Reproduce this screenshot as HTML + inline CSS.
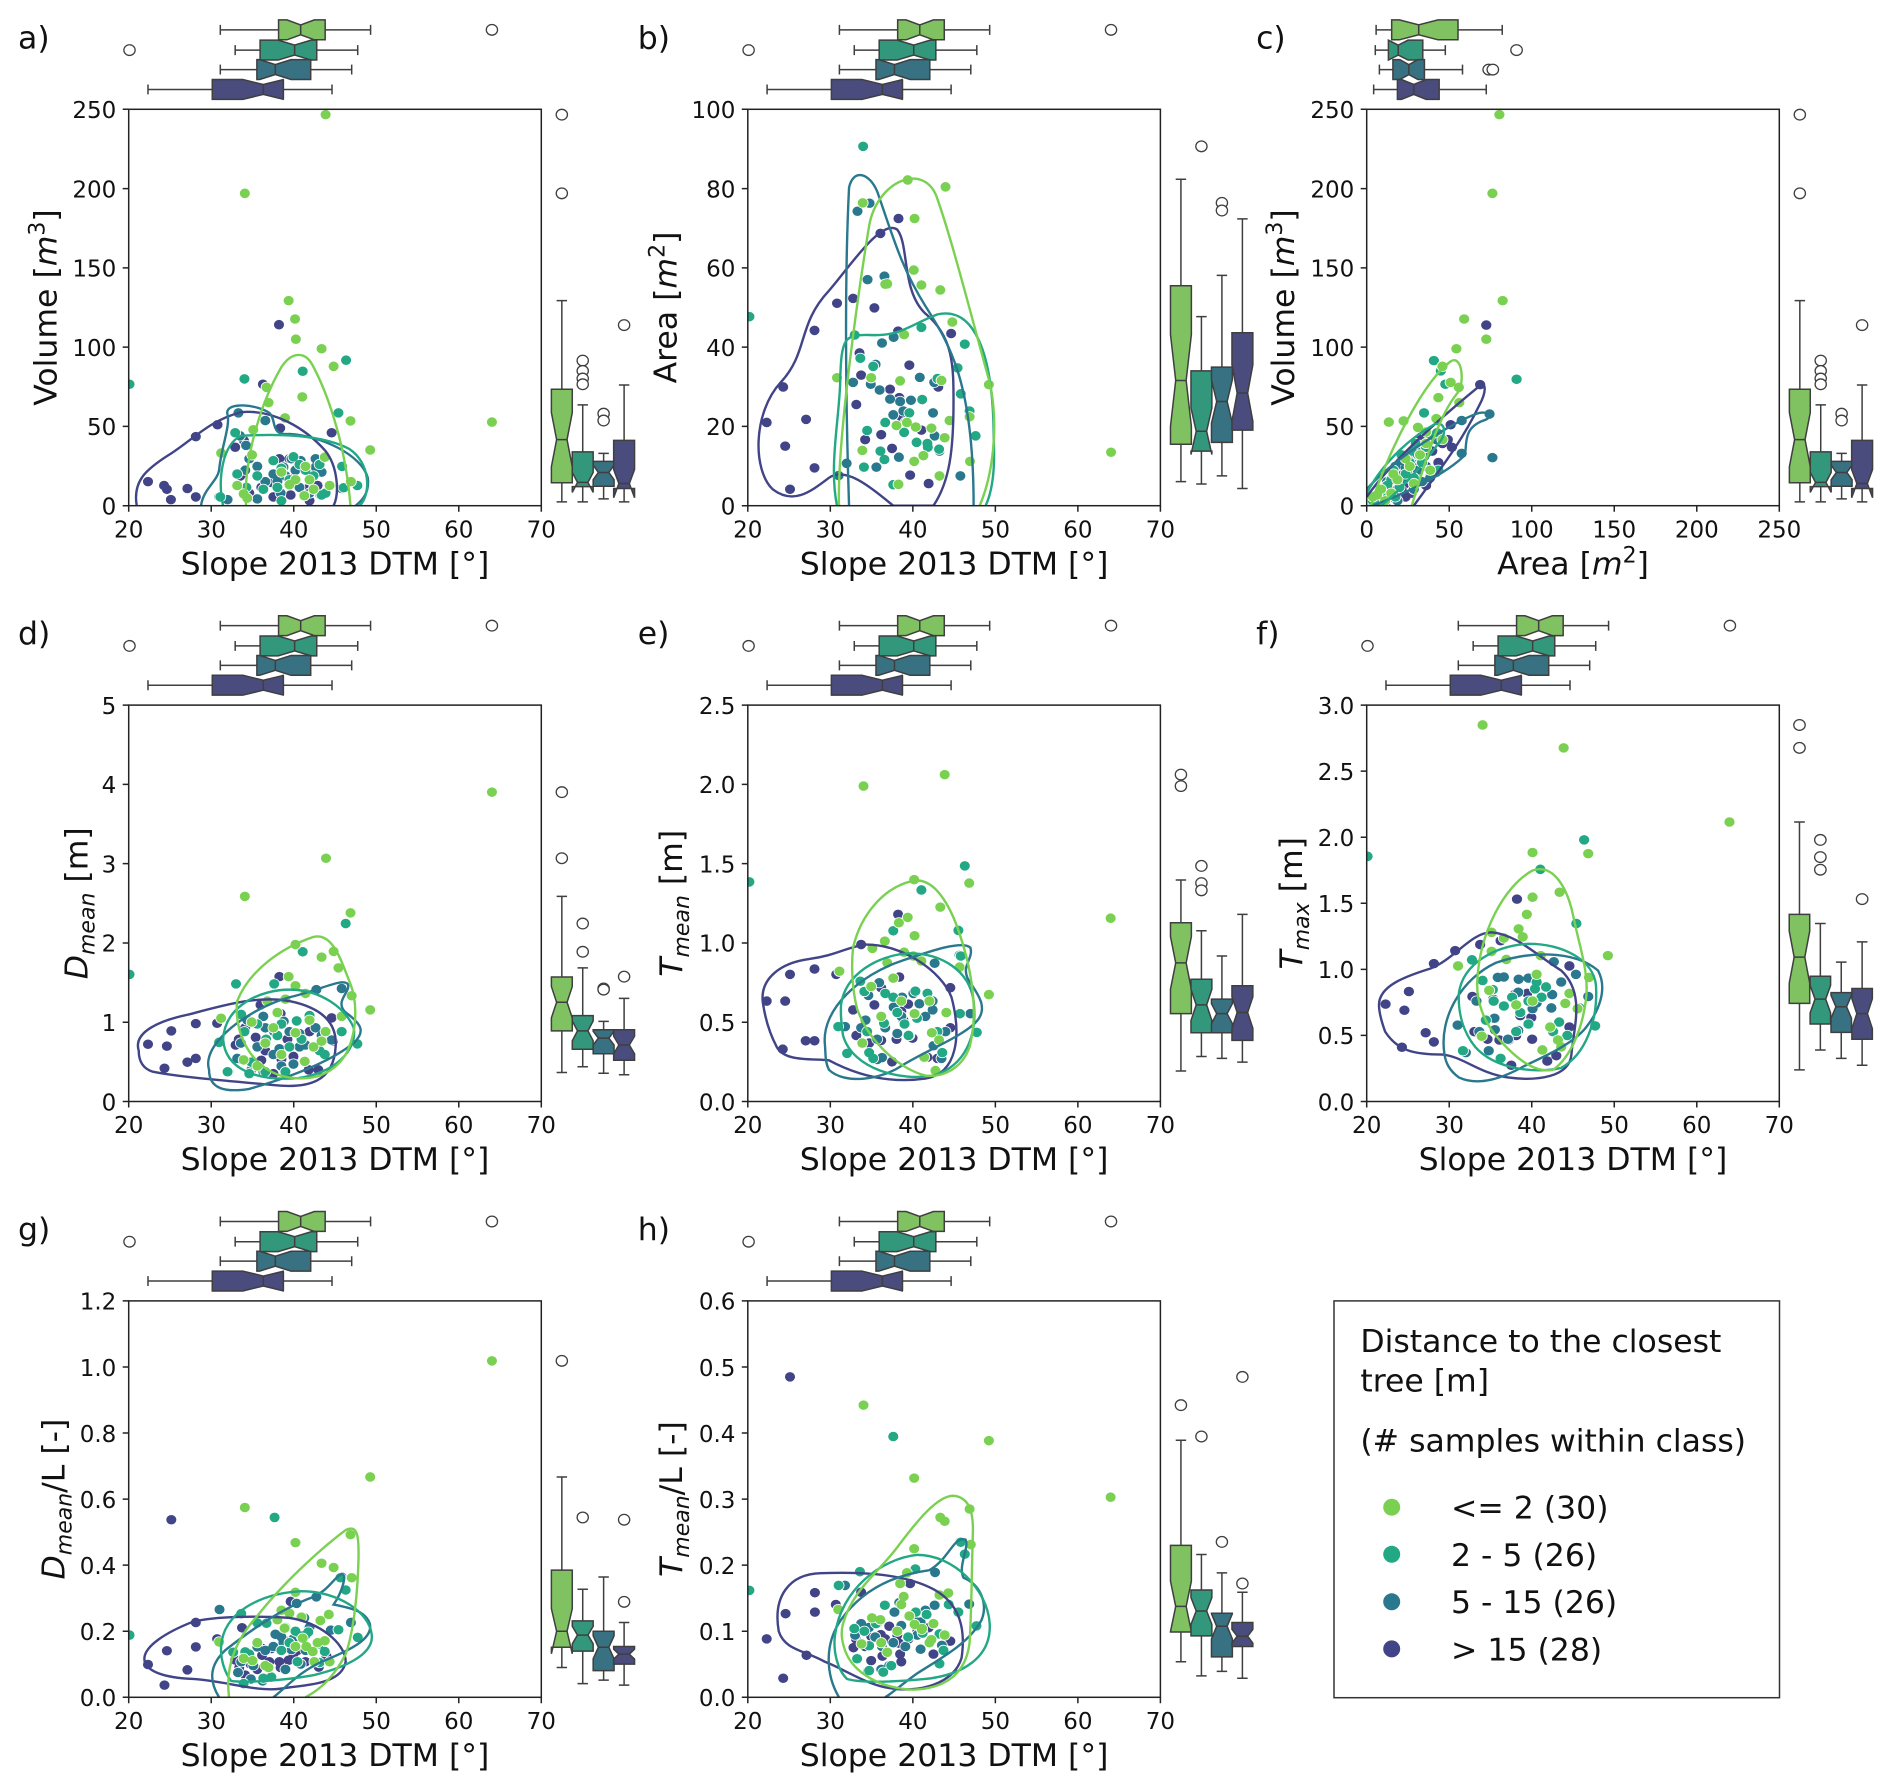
<!DOCTYPE html>
<html><head><meta charset="utf-8"><style>
html,body{margin:0;padding:0;background:#fff}
svg{display:block}
text{font-family:"DejaVu Sans","Liberation Sans",sans-serif;fill:#111}
.tl{font-size:23px}
.al{font-size:31.5px}
.fr{fill:none;stroke:#222;stroke-width:1.5}
.tk{fill:none;stroke:#222;stroke-width:1.5}
.f0{fill:#80c161}.f1{fill:#33977c}.f2{fill:#377182}.f3{fill:#4a4c7e}
.bx{stroke:#3f3f3f;stroke-width:1.5;vector-effect:non-scaling-stroke}
.ln{fill:none;stroke:#3f3f3f;stroke-width:1.5;vector-effect:non-scaling-stroke}
.ol{fill:#fff;stroke:#3f3f3f;stroke-width:1.3;vector-effect:non-scaling-stroke}
.dw{fill:none;stroke:#fff;stroke-width:29;stroke-linecap:round}
.d0{fill:none;stroke:#7ad151;stroke-width:25;stroke-linecap:round}
.d1{fill:none;stroke:#22a884;stroke-width:25;stroke-linecap:round}
.d2{fill:none;stroke:#2a788e;stroke-width:25;stroke-linecap:round}
.d3{fill:none;stroke:#414487;stroke-width:25;stroke-linecap:round}
.c0{fill:none;stroke:#7ad151;stroke-width:2.4;vector-effect:non-scaling-stroke}
.c1{fill:none;stroke:#22a884;stroke-width:2.4;vector-effect:non-scaling-stroke}
.c2{fill:none;stroke:#2a788e;stroke-width:2.4;vector-effect:non-scaling-stroke}
.c3{fill:none;stroke:#414487;stroke-width:2.4;vector-effect:non-scaling-stroke}
</style></head><body>
<svg width="1892" height="1792" viewBox="0 0 1892 1792" xmlns="http://www.w3.org/2000/svg">
<rect width="1892" height="1792" fill="#fff"/>
<defs>
<clipPath id="ax"><rect x="0" y="0" width="412.6" height="396.4"/></clipPath>
<g id="tops">
<path class="ln" d="M548 77H693M809 77H922M548 64V90M922 64V90M585 130H647M788 130H890M585 117V143M890 117V143M548 181H639M773 181H875M548 168V194M875 168V194M368 233H528M705 233H826M368 220V246M826 220V246"/>
<polygon class="bx f0" points="693,51 714,51 748,64 782,51 809,51 809,103 782,103 748,90 714,103 693,103"/>
<polygon class="bx f1" points="647,104 692,104 733,117 774,104 788,104 788,156 774,156 733,143 692,156 647,156"/>
<polygon class="bx f2" points="639,155 646,155 685,168 724,155 773,155 773,207 724,207 685,194 646,207 639,207"/>
<polygon class="bx f3" points="528,207 604,207 655,220 706,207 705,207 705,259 706,259 655,246 604,259 528,259"/>
<path class="ln" d="M748 64V90M733 117V143M685 168V194M655 220V246"/>
<circle class="ol" cx="322" cy="130" r="14"/><circle class="ol" cx="1224" cy="77" r="14"/>
</g>
<g id="ra">
<path class="ln" d="M1398 786V1018M1398 1263V1313M1385 786H1411M1385 1313H1411M1450 1059V1182M1450 1273V1313M1437 1059H1463M1437 1313H1463M1502 1186V1207M1502 1272V1305M1489 1186H1515M1489 1305H1515M1553 1007V1152M1553 1278V1313M1540 1007H1566M1540 1313H1566"/>
<polygon class="bx f0" points="1372,1263 1372,1221 1385,1150 1372,1079 1372,1018 1424,1018 1424,1079 1411,1150 1424,1221 1424,1263"/>
<polygon class="bx f1" points="1424,1273 1424,1288 1437,1262 1424,1236 1424,1182 1476,1182 1476,1236 1463,1262 1476,1288 1476,1273"/>
<polygon class="bx f2" points="1476,1272 1476,1255 1489,1236 1476,1217 1476,1207 1528,1207 1528,1217 1515,1236 1528,1255 1528,1272"/>
<polygon class="bx f3" points="1527,1278 1527,1302 1540,1265 1527,1228 1527,1152 1579,1152 1579,1228 1566,1265 1579,1302 1579,1278"/>
<path class="ln" d="M1385 1150H1411M1437 1262H1463M1489 1236H1515M1540 1265H1566"/>
<circle class="ol" cx="1398" cy="299" r="14"/><circle class="ol" cx="1398" cy="505" r="14"/>
<circle class="ol" cx="1450" cy="943" r="14"/><circle class="ol" cx="1450" cy="970" r="14"/><circle class="ol" cx="1450" cy="990" r="14"/><circle class="ol" cx="1450" cy="1005" r="14"/>
<circle class="ol" cx="1502" cy="1082" r="14"/><circle class="ol" cx="1502" cy="1100" r="14"/>
<circle class="ol" cx="1553" cy="850" r="14"/>
</g>
<path id="a0" d="M810 299h.1M609 505h.1M718 786h.1M734 834h.1M736 887h.1M800 912h.1M830 958h.1M752 1038h.1M668 1053h.1M663 1013h.1M709 1093h.1M872 1101h.1M921 1177h.1M1224 1104h.1M630 1124h.1M627 1190h.1M606 1292h.1M757 1297h.1M820 1270h.1M735 1255h.1M770 1255h.1M808 1196h.1M550 1185h.1M873 1260h.1M720 1268h.1M700 1235h.1M590 1270h.1M780 1280h.1M615 1303h.1M760 1220h.1"/>
<path id="a1" d="M322 1005h.1M608 991h.1M753 971h.1M861 942h.1M842 1080h.1M585 1132h.1M851 1220h.1M889 1270h.1M700 1310h.1M548 1300h.1M613 1275h.1M800 1295h.1M720 1255h.1M690 1275h.1M745 1215h.1M760 1230h.1M780 1245h.1M655 1280h.1M855 1276h.1M700 1225h.1M730 1195h.1M590 1240h.1M640 1245h.1M680 1205h.1M795 1215h.1M810 1290h.1"/>
<path id="a2" d="M660 1100h.1M593 1080h.1M612 1165h.1M640 1220h.1M660 1260h.1M680 1240h.1M705 1222h.1M725 1200h.1M748 1205h.1M785 1200h.1M785 1222h.1M800 1235h.1M850 1278h.1M797 1295h.1M698 1290h.1M640 1305h.1M545 1300h.1M566 1307h.1M597 1140h.1M620 1200h.1M745 1275h.1M770 1290h.1M690 1260h.1M710 1245h.1M735 1230h.1M610 1230h.1"/>
<path id="a3" d="M368 1260h.1M408 1270h.1M415 1280h.1M425 1307h.1M466 1278h.1M487 1300h.1M487 1142h.1M541 1111h.1M593 1082h.1M654 1005h.1M697 1120h.1M825 1132h.1M694 849h.1M607 1153h.1M585 1170h.1M598 1245h.1M650 1275h.1M675 1262h.1M695 1200h.1M720 1200h.1M723 1295h.1M770 1310h.1M790 1270h.1M680 1300h.1M638 1220h.1M730 1250h.1M760 1280h.1M620 1290h.1"/>
<path id="b0" d="M716 470h.1M810 488h.1M604 530h.1M733 571h.1M731 706h.1M750 745h.1M797 758h.1M827 842h.1M660 743h.1M665 742h.1M707 875h.1M540 988h.1M625 988h.1M697 996h.1M800 995h.1M918 1006h.1M1222 1183h.1M688 1113h.1M714 1105h.1M736 1117h.1M775 1120h.1M808 1145h.1M603 1178h.1M732 1207h.1M755 1192h.1M795 1245h.1M871 1207h.1M693 1267h.1M870 1090h.1M820 1100h.1"/>
<path id="b1" d="M322 828h.1M605 382h.1M750 856h.1M584 876h.1M598 937h.1M630 958h.1M858 900h.1M848 1030h.1M885 1140h.1M615 1126h.1M707 1131h.1M738 1157h.1M766 1170h.1M794 1175h.1M648 1180h.1M680 1268h.1M607 1222h.1M658 1202h.1M710 1105h.1M752 1045h.1M840 962h.1M870 1075h.1M790 990h.1M765 1160h.1M660 1105h.1M720 1080h.1"/>
<path id="b2" d="M591 552h.1M621 531h.1M658 722h.1M616 731h.1M652 897h.1M681 882h.1M636 953h.1M624 1005h.1M646 1020h.1M672 1044h.1M697 1050h.1M724 1047h.1M746 987h.1M782 1000h.1M779 1080h.1M783 1140h.1M847 1245h.1M871 1075h.1M564 1212h.1M544 1244h.1M694 1196h.1M638 1222h.1M680 1085h.1M705 1075h.1M795 1180h.1M580 1000h.1"/>
<path id="b3" d="M648 610h.1M693 571h.1M540 793h.1M633 805h.1M580 780h.1M484 864h.1M824 872h.1M406 1012h.1M365 1105h.1M463 1097h.1M411 1167h.1M484 1224h.1M423 1280h.1M596 923h.1M600 981h.1M588 1058h.1M720 955h.1M672 1018h.1M695 1040h.1M792 1012h.1M650 1137h.1M677 1173h.1M722 1243h.1M768 1265h.1M700 1090h.1M610 1150h.1M692 866h.1M750 1125h.1"/>
<path id="k0" d="M609 299h.1M592 505h.1M617 786h.1M523 834h.1M577 887h.1M504 912h.1M470 958h.1M510 1013h.1M511 1053h.1M339 1104h.1M375 1101h.1M410 1118h.1M430 1130h.1M455 1095h.1M415 1190h.1M360 1255h.1M320 1280h.1M300 1300h.1M350 1240h.1M380 1200h.1M430 1160h.1M470 1150h.1M400 1265h.1M440 1230h.1M330 1310h.1M310 1295h.1M460 1040h.1M490 1000h.1M390 1220h.1M345 1290h.1"/>
<path id="k1" d="M449 943h.1M466 970h.1M477 1005h.1M651 992h.1M425 1080h.1M457 1132h.1M345 1255h.1M365 1275h.1M330 1295h.1M300 1310h.1M350 1230h.1M390 1210h.1M410 1190h.1M430 1170h.1M320 1280h.1M400 1250h.1M440 1140h.1M370 1190h.1M380 1240h.1M310 1320h.1M420 1210h.1M355 1300h.1M335 1270h.1M460 1230h.1M395 1180h.1M405 1160h.1"/>
<path id="k2" d="M585 1083h.1M517 1100h.1M517 1186h.1M592 1197h.1M456 1235h.1M380 1225h.1M355 1220h.1M395 1200h.1M410 1230h.1M330 1280h.1M310 1300h.1M345 1300h.1M425 1195h.1M365 1260h.1M300 1310h.1M350 1245h.1M385 1250h.1M405 1170h.1M440 1250h.1M455 1150h.1M320 1290h.1M335 1260h.1M370 1205h.1M400 1280h.1M420 1260h.1M360 1310h.1"/>
<path id="k3" d="M577 850h.1M562 1006h.1M490 1111h.1M483 1150h.1M493 1170h.1M418 1143h.1M440 1245h.1M390 1265h.1M370 1280h.1M345 1300h.1M330 1320h.1M310 1310h.1M400 1230h.1M420 1200h.1M445 1180h.1M460 1210h.1M375 1240h.1M355 1255h.1M325 1290h.1M395 1290h.1M410 1255h.1M430 1270h.1M350 1285h.1M300 1315h.1M380 1300h.1M470 1160h.1M395 1210h.1M430 1220h.1"/>
<path id="e0x" d="M1224 513h.1M811 686h.1M609 786h.1M872 829h.1M735 912h.1M800 945h.1M830 930h.1M842 973h.1M718 996h.1M735 1020h.1M875 1046h.1M921 1083h.1M710 1055h.1M760 1040h.1M665 1060h.1M550 1105h.1M626 1115h.1M735 1143h.1M780 1180h.1M606 1214h.1M758 1218h.1M810 1140h.1M800 1165h.1M690 1090h.1M660 1170h.1M700 1200h.1M640 1230h.1M770 1110h.1M680 1130h.1M850 1100h.1"/>
<path id="e1x" d="M322 990h.1M860 857h.1M753 931h.1M843 974h.1M850 1140h.1M889 1172h.1M682 1015h.1M545 1168h.1M566 1245h.1M608 1140h.1M625 1220h.1M662 1160h.1M700 1120h.1M738 1112h.1M770 1098h.1M795 1190h.1M808 1200h.1M720 1180h.1M640 1120h.1M660 1245h.1M600 1095h.1M587 1015h.1M750 1160h.1M690 1150h.1M710 1245h.1M620 1250h.1"/>
<path id="e2x" d="M850 1027h.1M787 1030h.1M825 1162h.1M808 1200h.1M706 1113h.1M682 1140h.1M660 1130h.1M637 1120h.1M640 1180h.1M680 1200h.1M695 1185h.1M720 1140h.1M745 1145h.1M785 1130h.1M568 1245h.1M625 1240h.1M655 1245h.1M615 1110h.1M599 1170h.1M745 1180h.1M700 1230h.1M655 1100h.1M730 1225h.1M760 1175h.1M590 1210h.1M800 1150h.1"/>
<path id="e3x" d="M368 1173h.1M415 1178h.1M426 1138h.1M487 1119h.1M466 1220h.1M487 1210h.1M409 1236h.1M695 996h.1M648 1070h.1M698 1093h.1M825 1104h.1M828 1165h.1M586 1175h.1M594 1160h.1M636 1155h.1M680 1250h.1M700 1212h.1M730 1205h.1M768 1240h.1M792 1240h.1M650 1215h.1M600 1213h.1M715 1160h.1M628 1225h.1M540 1118h.1M770 1140h.1M660 1190h.1M610 1130h.1"/>
<path id="m0" d="M808 467h.1M606 497h.1M732 742h.1M869 751h.1M797 814h.1M716 841h.1M694 855h.1M733 889h.1M659 903h.1M628 922h.1M707 932h.1M730 942h.1M750 955h.1M665 960h.1M845 971h.1M546 982h.1M918 1043h.1M1221 843h.1M625 1022h.1M733 1093h.1M812 1090h.1M776 1143h.1M794 1162h.1M603 1170h.1M757 1207h.1M785 1242h.1M650 1100h.1M700 1060h.1M770 1060h.1M680 1000h.1"/>
<path id="m1" d="M322 748h.1M858 706h.1M750 769h.1M680 876h.1M842 875h.1M848 942h.1M598 1008h.1M608 1035h.1M660 1040h.1M735 1034h.1M765 1040h.1M739 1105h.1M718 1150h.1M846 1093h.1M888 1142h.1M543 1127h.1M657 1118h.1M708 1120h.1M615 1140h.1M802 1195h.1M620 1195h.1M565 1197h.1M690 1090h.1M790 1140h.1M630 1210h.1M680 1050h.1"/>
<path id="m2" d="M845 940h.1M783 961h.1M872 1093h.1M778 1083h.1M645 1012h.1M618 1045h.1M681 1076h.1M702 1050h.1M745 1067h.1M778 1060h.1M690 1145h.1M720 1150h.1M640 1213h.1M652 1208h.1M564 1197h.1M560 1127h.1M611 1110h.1M600 1130h.1M780 1177h.1M800 1210h.1M810 1140h.1M660 1130h.1M730 1040h.1M700 1100h.1M640 1160h.1M760 1100h.1"/>
<path id="m3" d="M600 912h.1M692 833h.1M695 997h.1M484 976h.1M423 990h.1M365 1060h.1M411 1060h.1M462 1164h.1M484 1164h.1M405 1186h.1M588 1150h.1M538 990h.1M580 1083h.1M633 1070h.1M700 1087h.1M717 1068h.1M728 1157h.1M677 1219h.1M765 1207h.1M790 1210h.1M822 1025h.1M822 1130h.1M600 1130h.1M650 1163h.1M688 1160h.1M650 1025h.1M705 1110h.1M620 1170h.1"/>
<path id="n0" d="M568 337h.1M766 397h.1M1171 591h.1M690 671h.1M826 674h.1M690 788h.1M756 775h.1M676 833h.1M656 871h.1M666 892h.1M590 880h.1M626 951h.1M508 968h.1M710 941h.1M874 941h.1M828 998h.1M584 1032h.1M650 1070h.1M690 1060h.1M770 1066h.1M800 1080h.1M566 1152h.1M733 1128h.1M752 1162h.1M714 1188h.1M760 1180h.1M620 895h.1M590 930h.1M780 1040h.1M700 990h.1"/>
<path id="n1" d="M287 681h.1M816 638h.1M709 715h.1M797 857h.1M542 952h.1M568 1006h.1M696 1028h.1M723 1023h.1M712 1050h.1M660 1090h.1M620 1073h.1M576 1110h.1M805 1078h.1M843 1125h.1M680 1120h.1M755 1115h.1M595 1060h.1M640 1050h.1M700 1010h.1M775 1150h.1M612 1210h.1M520 1190h.1M650 1140h.1M740 1140h.1M593 1030h.1M680 1060h.1"/>
<path id="n2" d="M656 1003h.1M620 997h.1M605 998h.1M742 957h.1M796 990h.1M826 1048h.1M738 1043h.1M736 1078h.1M655 1037h.1M640 1050h.1M553 1060h.1M507 1123h.1M597 1105h.1M583 1190h.1M527 1195h.1M612 1213h.1M655 1137h.1M762 1180h.1M742 1140h.1M700 1065h.1M760 1010h.1M680 1000h.1M630 1160h.1M598 1135h.1M560 1140h.1M690 1080h.1"/>
<path id="n3" d="M652 793h.1M612 902h.1M562 912h.1M501 928h.1M449 962h.1M388 1035h.1M331 1068h.1M377 1084h.1M429 1143h.1M449 1167h.1M371 1181h.1M543 1048h.1M594 1055h.1M646 1043h.1M677 1040h.1M687 1103h.1M689 1160h.1M609 1162h.1M632 1162h.1M638 1228h.1M726 1217h.1M748 1203h.1M780 1128h.1M548 1140h.1M650 1150h.1M660 1098h.1M780 968h.1M580 1160h.1"/>
<path id="g0" d="M1224 442h.1M921 746h.1M609 826h.1M735 918h.1M872 897h.1M800 972h.1M830 983h.1M875 1010h.1M735 1048h.1M720 1103h.1M797 1122h.1M818 1106h.1M708 1142h.1M753 1168h.1M735 1190h.1M762 1190h.1M778 1203h.1M808 1175h.1M606 1221h.1M628 1227h.1M668 1245h.1M545 1178h.1M782 1230h.1M690 1120h.1M750 1113h.1M700 1095h.1M820 1230h.1M640 1180h.1M660 1240h.1M790 1180h.1"/>
<path id="g1" d="M322 1160h.1M683 852h.1M860 1042h.1M847 1010h.1M890 1166h.1M760 1160h.1M767 1152h.1M842 1146h.1M808 1203h.1M794 1183h.1M600 1104h.1M640 1128h.1M663 1129h.1M710 1140h.1M735 1150h.1M750 1163h.1M610 1204h.1M606 1287h.1M655 1273h.1M675 1270h.1M580 1205h.1M620 1210h.1M700 1200h.1M720 1180h.1M795 1232h.1M740 1230h.1"/>
<path id="g2" d="M546 1093h.1M787 1060h.1M850 1008h.1M738 1077h.1M823 1147h.1M873 1127h.1M685 1158h.1M705 1180h.1M725 1198h.1M640 1191h.1M592 1258h.1M624 1275h.1M653 1280h.1M748 1236h.1M806 1201h.1M700 1165h.1M660 1200h.1M730 1170h.1M757 1115h.1M680 1190h.1M770 1140h.1M600 1230h.1M630 1240h.1M710 1250h.1M620 1215h.1M760 1200h.1"/>
<path id="g3" d="M426 858h.1M368 1237h.1M409 1291h.1M415 1201h.1M466 1251h.1M487 1191h.1M487 1127h.1M723 1072h.1M602 1141h.1M585 1225h.1M595 1245h.1M623 1236h.1M652 1213h.1M652 1195h.1M675 1195h.1M698 1245h.1M718 1226h.1M722 1175h.1M740 1200h.1M793 1244h.1M812 1215h.1M540 1170h.1M695 1230h.1M670 1230h.1M610 1265h.1M760 1230h.1M730 1210h.1M640 1250h.1"/>
<path id="h0" d="M606 558h.1M918 651h.1M732 749h.1M1221 799h.1M870 830h.1M797 852h.1M808 862h.1M873 923h.1M732 934h.1M714 997h.1M697 1025h.1M706 1059h.1M795 1055h.1M817 1050h.1M543 1093h.1M627 1115h.1M648 1120h.1M733 1132h.1M752 1143h.1M775 1172h.1M808 1160h.1M601 1183h.1M665 1205h.1M751 1145h.1M690 1150h.1M720 1110h.1M770 1180h.1M650 1180h.1M700 1080h.1M780 1130h.1"/>
<path id="h1" d="M322 1043h.1M680 640h.1M597 994h.1M544 1030h.1M735 987h.1M858 948h.1M848 917h.1M887 1136h.1M842 1100h.1M818 1080h.1M659 1082h.1M736 1100h.1M763 1106h.1M795 1157h.1M805 1200h.1M795 1235h.1M583 1143h.1M608 1150h.1M620 1188h.1M637 1130h.1M717 1165h.1M753 1155h.1M590 1222h.1M620 1253h.1M655 1257h.1M675 1240h.1"/>
<path id="h2" d="M784 996h.1M846 916h.1M560 1030h.1M695 1075h.1M683 1100h.1M783 1082h.1M869 1079h.1M748 1126h.1M700 1135h.1M640 1130h.1M600 1130h.1M635 1165h.1M652 1190h.1M590 1220h.1M617 1254h.1M748 1197h.1M801 1187h.1M670 1240h.1M585 1160h.1M760 1095h.1M730 1110h.1M710 1190h.1M680 1180h.1M620 1140h.1M740 1160h.1M650 1250h.1"/>
<path id="h3" d="M423 484h.1M412 1104h.1M365 1170h.1M406 1273h.1M464 1213h.1M485 1049h.1M485 1100h.1M537 1080h.1M600 1048h.1M722 1025h.1M768 1141h.1M822 1176h.1M718 1170h.1M694 1181h.1M697 1210h.1M670 1137h.1M649 1159h.1M625 1163h.1M587 1170h.1M581 1193h.1M625 1227h.1M690 1160h.1M653 1215h.1M610 1190h.1M740 1150h.1M780 1210h.1M700 1230h.1M660 1170h.1"/>
</defs>

<!-- PANEL A -->
<g transform="translate(128.7 109.3)">
<g clip-path="url(#ax)"><g transform="scale(.40179 .3819) translate(-320 -285)">
<use href="#a3" class="dw"/><use href="#a3" class="d3"/><use href="#a2" class="dw"/><use href="#a2" class="d2"/><use href="#a1" class="dw"/><use href="#a1" class="d1"/><use href="#a0" class="dw"/><use href="#a0" class="d0"/>
<path class="c3" d="M340 1323C330 1260 360 1230 420 1190C480 1150 520 1100 600 1078C680 1070 760 1120 810 1180C840 1220 845 1290 830 1323"/>
<path class="c2" d="M500 1323C505 1280 540 1260 545 1230C550 1170 575 1110 565 1080C565 1050 640 1058 670 1080C690 1100 670 1140 720 1135C800 1140 900 1190 915 1250C920 1290 900 1310 885 1323"/>
<path class="c1" d="M555 1323C540 1250 555 1160 600 1140C680 1135 800 1135 870 1175C920 1210 925 1290 895 1323"/>
<path class="c0" d="M612 1323C605 1200 650 1050 700 960C725 920 760 915 780 960C820 1040 860 1170 872 1323"/>
</g></g>
<g transform="scale(.40179 .3819) translate(-320 -285)"><use href="#tops"/><use href="#ra"/></g>
<rect class="fr" width="412.6" height="396.4"/>
<path class="tk" d="M0 396.4v6M82.52 396.4v6M165.04 396.4v6M247.56 396.4v6M330.08 396.4v6M412.6 396.4v6M0 0h-6M0 79.28h-6M0 158.56h-6M0 237.84h-6M0 317.12h-6M0 396.4h-6"/>
<g class="tl" text-anchor="middle"><text x="0" y="428">20</text><text x="82.52" y="428">30</text><text x="165.04" y="428">40</text><text x="247.56" y="428">50</text><text x="330.08" y="428">60</text><text x="412.6" y="428">70</text></g>
<g class="tl" text-anchor="end"><text x="-12.4" y="405.2">0</text><text x="-12.4" y="325.9">50</text><text x="-12.4" y="246.6">100</text><text x="-12.4" y="167.4">150</text><text x="-12.4" y="88.1">200</text><text x="-12.4" y="8.8">250</text></g>
<text class="al" x="206.3" y="465" text-anchor="middle">Slope 2013 DTM [°]</text>
<text class="al" transform="translate(-72.3 198.2) rotate(-90)" text-anchor="middle">Volume [<tspan font-style="italic">m</tspan><tspan font-size="22" dy="-12">3</tspan><tspan dy="12">]</tspan></text>
<text class="al" x="-110.7" y="-61">a)</text>
</g>

<!-- PANEL B -->
<g transform="translate(747.8 109.3)">
<g clip-path="url(#ax)"><g transform="scale(.40179 .3819) translate(-318 -285)">
<use href="#b3" class="dw"/><use href="#b3" class="d3"/><use href="#b2" class="dw"/><use href="#b2" class="d2"/><use href="#b1" class="dw"/><use href="#b1" class="d1"/><use href="#b0" class="dw"/><use href="#b0" class="d0"/>
<path class="c3" d="M690 600C720 640 700 760 760 820C830 880 830 960 830 1050C830 1180 820 1260 780 1323L680 1323C620 1270 560 1220 520 1250C470 1290 430 1320 380 1280C330 1230 330 1080 400 1000C470 920 440 850 520 760C570 700 650 570 690 600Z"/>
<path class="c2" d="M570 1323C560 1000 560 700 570 490C580 440 620 450 640 500C680 620 700 700 760 800C820 900 880 1000 880 1323"/>
<path class="c1" d="M540 1323C520 1220 545 1100 548 1000C550 880 560 875 620 876C700 880 720 850 790 822C880 800 930 920 930 1150C935 1250 920 1300 910 1323"/>
<path class="c0" d="M545 1323C540 1150 595 750 620 590C640 470 760 420 790 520C830 640 880 850 920 1000C945 1120 925 1250 895 1323"/>
</g></g>
<g transform="scale(.40179 .3819) translate(-320 -285)"><use href="#tops"/></g>
<g transform="scale(.40179 .3819) translate(-318 -285)">
<path class="ln" d="M1396 468V747M1396 1162V1260M1383 468H1409M1383 1260H1409M1447 828V970M1447 1180V1266M1434 828H1460M1434 1266H1460M1498 720V960M1498 1157V1245M1485 720H1511M1485 1245H1511M1549 572V870M1549 1125V1278M1536 572H1562M1536 1278H1562"/>
<polygon class="bx f0" points="1370,1162 1370,1115 1383,995 1370,875 1370,747 1422,747 1422,875 1409,995 1422,1115 1422,1162"/>
<polygon class="bx f1" points="1421,1180 1421,1189 1434,1128 1421,1067 1421,970 1473,970 1473,1067 1460,1128 1473,1189 1473,1180"/>
<polygon class="bx f2" points="1472,1157 1472,1107 1485,1050 1472,993 1472,960 1524,960 1524,993 1511,1050 1524,1107 1524,1157"/>
<polygon class="bx f3" points="1523,1125 1523,1102 1536,1028 1523,954 1523,870 1575,870 1575,954 1562,1028 1575,1102 1575,1125"/>
<path class="ln" d="M1383 995H1409M1434 1128H1460M1485 1050H1511M1536 1028H1562"/>
<circle class="ol" cx="1447" cy="382" r="14"/><circle class="ol" cx="1498" cy="530" r="14"/><circle class="ol" cx="1498" cy="550" r="14"/>
</g>
<rect class="fr" width="412.6" height="396.4"/>
<path class="tk" d="M0 396.4v6M82.52 396.4v6M165.04 396.4v6M247.56 396.4v6M330.08 396.4v6M412.6 396.4v6M0 0h-6M0 79.28h-6M0 158.56h-6M0 237.84h-6M0 317.12h-6M0 396.4h-6"/>
<g class="tl" text-anchor="middle"><text x="0" y="428">20</text><text x="82.52" y="428">30</text><text x="165.04" y="428">40</text><text x="247.56" y="428">50</text><text x="330.08" y="428">60</text><text x="412.6" y="428">70</text></g>
<g class="tl" text-anchor="end"><text x="-12.4" y="405.2">0</text><text x="-12.4" y="325.9">20</text><text x="-12.4" y="246.6">40</text><text x="-12.4" y="167.4">60</text><text x="-12.4" y="88.1">80</text><text x="-12.4" y="8.8">100</text></g>
<text class="al" x="206.3" y="465" text-anchor="middle">Slope 2013 DTM [°]</text>
<text class="al" transform="translate(-71.5 198.2) rotate(-90)" text-anchor="middle">Area [<tspan font-style="italic">m</tspan><tspan font-size="22" dy="-12">2</tspan><tspan dy="12">]</tspan></text>
<text class="al" x="-110" y="-61">b)</text>
</g>

<!-- PANEL C -->
<g transform="translate(1366.7 109.3)">
<g clip-path="url(#ax)"><g transform="scale(.40944 .3819) translate(-285 -285)">
<use href="#k3" class="dw"/><use href="#k3" class="d3"/><use href="#k2" class="dw"/><use href="#k2" class="d2"/><use href="#k1" class="dw"/><use href="#k1" class="d1"/><use href="#k0" class="dw"/><use href="#k0" class="d0"/>
<path class="c3" d="M285 1300C350 1200 480 1080 560 1010C575 995 580 1020 560 1060C520 1150 470 1220 400 1323"/>
<path class="c2" d="M285 1280C350 1200 500 1100 560 1080C590 1075 590 1095 570 1100C520 1120 530 1160 525 1190C480 1240 380 1290 300 1323"/>
<path class="c1" d="M285 1290C330 1200 400 1140 450 1110C480 1100 480 1140 460 1160C420 1220 360 1290 320 1323"/>
<path class="c0" d="M295 1323C330 1200 420 1000 490 945C520 925 525 1010 505 1030C460 1090 430 1200 395 1323"/>
</g></g>
<g transform="scale(.40944 .3819) translate(-285 -285)">
<path class="ln" d="M308 77H346M508 77H616M308 64V90M616 64V90M306 130H338M422 130H477M306 117V143M477 117V143M316 181H349M426 181H519M316 168V194M519 168V194M302 233H360M462 233H577M302 220V246M577 220V246"/>
<polygon class="bx f0" points="346,51 365,51 412,64 459,51 508,51 508,103 459,103 412,90 365,103 346,103"/>
<polygon class="bx f1" points="338,104 362,117 386,104 422,104 422,156 386,156 362,143 338,156"/>
<polygon class="bx f2" points="349,155 366,155 388,168 410,155 426,155 426,207 410,207 388,194 366,207 349,207"/>
<polygon class="bx f3" points="360,207 370,207 400,220 430,207 462,207 462,259 430,259 400,246 370,259 360,259"/>
<path class="ln" d="M412 64V90M362 117V143M388 168V194M400 220V246"/>
<circle class="ol" cx="651" cy="130" r="14"/><circle class="ol" cx="583" cy="181" r="14"/><circle class="ol" cx="593" cy="181" r="14"/>
</g>
<g transform="scale(.40179 .3819) translate(-320 -285)"><use href="#ra"/></g>
<rect class="fr" width="412.6" height="396.4"/>
<path class="tk" d="M0 396.4v6M82.52 396.4v6M165.04 396.4v6M247.56 396.4v6M330.08 396.4v6M412.6 396.4v6M0 0h-6M0 79.28h-6M0 158.56h-6M0 237.84h-6M0 317.12h-6M0 396.4h-6"/>
<g class="tl" text-anchor="middle"><text x="0" y="428">0</text><text x="82.52" y="428">50</text><text x="165.04" y="428">100</text><text x="247.56" y="428">150</text><text x="330.08" y="428">200</text><text x="412.6" y="428">250</text></g>
<g class="tl" text-anchor="end"><text x="-12.4" y="405.2">0</text><text x="-12.4" y="325.9">50</text><text x="-12.4" y="246.6">100</text><text x="-12.4" y="167.4">150</text><text x="-12.4" y="88.1">200</text><text x="-12.4" y="8.8">250</text></g>
<text class="al" x="206.3" y="465" text-anchor="middle">Area [<tspan font-style="italic">m</tspan><tspan font-size="22" dy="-12">2</tspan><tspan dy="12">]</tspan></text>
<text class="al" transform="translate(-72.5 198.2) rotate(-90)" text-anchor="middle">Volume [<tspan font-style="italic">m</tspan><tspan font-size="22" dy="-12">3</tspan><tspan dy="12">]</tspan></text>
<text class="al" x="-110.6" y="-61">c)</text>
</g>

<!-- PANEL D -->
<g transform="translate(128.7 705.1)">
<g clip-path="url(#ax)"><g transform="scale(.40179 .3819) translate(-320 -285)">
<use href="#e3x" class="dw"/><use href="#e3x" class="d3"/><use href="#e2x" class="dw"/><use href="#e2x" class="d2"/><use href="#e1x" class="dw"/><use href="#e1x" class="d1"/><use href="#e0x" class="dw"/><use href="#e0x" class="d0"/>
<path class="c3" d="M345 1190C330 1140 400 1110 470 1095C560 1070 640 1045 720 1060C790 1075 840 1110 835 1180C830 1270 770 1290 680 1280C580 1270 450 1260 380 1245C350 1235 345 1210 345 1190Z"/>
<path class="c2" d="M520 1240C500 1170 620 1080 720 1050C800 1030 850 1000 865 1015C875 1035 830 1060 860 1090C900 1120 910 1140 880 1170C820 1220 720 1260 620 1290C560 1300 520 1290 520 1240Z"/>
<path class="c1" d="M555 1160C560 1070 650 1030 720 1030C800 1030 860 1080 880 1130C890 1190 830 1250 740 1262C640 1270 560 1240 555 1160Z"/>
<path class="c0" d="M590 1060C620 980 700 920 780 892C830 880 850 960 870 1010C890 1060 890 1140 860 1200C830 1250 780 1270 720 1260C640 1250 580 1160 590 1060Z"/>
</g></g>
<g transform="scale(.40179 .3819) translate(-320 -285)"><use href="#tops"/>
<path class="ln" d="M1398 786V997M1398 1138V1247M1385 786H1411M1385 1247H1411M1450 973V1098M1450 1186V1232M1437 973H1463M1437 1232H1463M1502 1113V1135M1502 1198V1249M1489 1113H1515M1489 1249H1515M1553 1053V1135M1553 1215V1253M1540 1053H1566M1540 1253H1566"/>
<polygon class="bx f0" points="1372,1138 1372,1104 1385,1063 1372,1022 1372,997 1424,997 1424,1022 1411,1063 1424,1104 1424,1138"/>
<polygon class="bx f1" points="1424,1186 1424,1164 1437,1138 1424,1112 1424,1098 1476,1098 1476,1112 1463,1138 1476,1164 1476,1186"/>
<polygon class="bx f2" points="1476,1198 1476,1175 1489,1157 1476,1139 1476,1135 1528,1135 1528,1139 1515,1157 1528,1175 1528,1198"/>
<polygon class="bx f3" points="1527,1215 1527,1198 1540,1175 1527,1152 1527,1135 1579,1135 1579,1152 1566,1175 1579,1198 1579,1215"/>
<path class="ln" d="M1385 1063H1411M1437 1138H1463M1489 1157H1515M1540 1175H1566"/>
<circle class="ol" cx="1398" cy="513" r="14"/><circle class="ol" cx="1398" cy="686" r="14"/><circle class="ol" cx="1450" cy="857" r="14"/><circle class="ol" cx="1450" cy="931" r="14"/><circle class="ol" cx="1502" cy="1027" r="14"/><circle class="ol" cx="1502" cy="1030" r="14"/><circle class="ol" cx="1553" cy="996" r="14"/>
</g>
<rect class="fr" width="412.6" height="396.4"/>
<path class="tk" d="M0 396.4v6M82.52 396.4v6M165.04 396.4v6M247.56 396.4v6M330.08 396.4v6M412.6 396.4v6M0 0h-6M0 79.28h-6M0 158.56h-6M0 237.84h-6M0 317.12h-6M0 396.4h-6"/>
<g class="tl" text-anchor="middle"><text x="0" y="428">20</text><text x="82.52" y="428">30</text><text x="165.04" y="428">40</text><text x="247.56" y="428">50</text><text x="330.08" y="428">60</text><text x="412.6" y="428">70</text></g>
<g class="tl" text-anchor="end"><text x="-12.4" y="405.2">0</text><text x="-12.4" y="325.9">1</text><text x="-12.4" y="246.6">2</text><text x="-12.4" y="167.4">3</text><text x="-12.4" y="88.1">4</text><text x="-12.4" y="8.8">5</text></g>
<text class="al" x="206.3" y="465" text-anchor="middle">Slope 2013 DTM [°]</text>
<text class="al" transform="translate(-41 198.2) rotate(-90)" text-anchor="middle"><tspan font-style="italic">D</tspan><tspan font-style="italic" font-size="22" dy="7">mean</tspan><tspan dy="-7"> [m]</tspan></text>
<text class="al" x="-110.7" y="-61">d)</text>
</g>

<!-- PANEL E -->
<g transform="translate(747.8 705.1)">
<g clip-path="url(#ax)"><g transform="scale(.40179 .3819) translate(-318 -285)">
<use href="#m3" class="dw"/><use href="#m3" class="d3"/><use href="#m2" class="dw"/><use href="#m2" class="d2"/><use href="#m1" class="dw"/><use href="#m1" class="d1"/><use href="#m0" class="dw"/><use href="#m0" class="d0"/>
<path class="c3" d="M355 1060C350 1000 400 960 470 950C540 940 560 920 610 912C700 910 800 980 825 1050C850 1150 840 1250 760 1263C680 1275 600 1260 520 1215C480 1210 410 1220 390 1180C370 1140 360 1100 355 1060Z"/>
<path class="c2" d="M510 1175C500 1080 600 990 700 955C770 930 850 900 872 920C880 950 850 965 865 1000C880 1030 920 1070 890 1110C860 1150 760 1190 700 1230C650 1265 560 1280 520 1240C510 1220 512 1200 510 1175Z"/>
<path class="c1" d="M550 1070C560 990 640 940 720 935C800 935 870 980 880 1060C890 1150 860 1230 780 1255C700 1270 580 1240 555 1150C550 1120 549 1095 550 1070Z"/>
<path class="c0" d="M580 920C600 830 660 760 730 745C790 735 830 830 850 900C880 1000 890 1100 870 1180C850 1240 800 1260 760 1255C700 1240 620 1170 590 1080C578 1030 575 970 580 920Z"/>
</g></g>
<g transform="scale(.40179 .3819) translate(-320 -285)"><use href="#tops"/></g>
<g transform="scale(.40179 .3819) translate(-318 -285)">
<path class="ln" d="M1396 743V855M1396 1093V1243M1383 743H1409M1383 1243H1409M1447 876V1003M1447 1143V1205M1434 876H1460M1434 1205H1460M1498 942V1055M1498 1143V1210M1485 942H1511M1485 1210H1511M1549 833V1020M1549 1163V1220M1536 833H1562M1536 1220H1562"/>
<polygon class="bx f0" points="1370,1093 1370,1029 1383,960 1370,891 1370,855 1422,855 1422,891 1409,960 1422,1029 1422,1093"/>
<polygon class="bx f1" points="1421,1143 1421,1111 1434,1070 1421,1029 1421,1003 1473,1003 1473,1029 1460,1070 1473,1111 1473,1143"/>
<polygon class="bx f2" points="1472,1143 1472,1119 1485,1093 1472,1067 1472,1055 1524,1055 1524,1067 1511,1093 1524,1119 1524,1143"/>
<polygon class="bx f3" points="1523,1163 1523,1131 1536,1090 1523,1049 1523,1020 1575,1020 1575,1049 1562,1090 1575,1131 1575,1163"/>
<path class="ln" d="M1383 960H1409M1434 1070H1460M1485 1093H1511M1536 1090H1562"/>
<circle class="ol" cx="1396" cy="467" r="14"/><circle class="ol" cx="1396" cy="497" r="14"/><circle class="ol" cx="1447" cy="706" r="14"/><circle class="ol" cx="1447" cy="751" r="14"/><circle class="ol" cx="1447" cy="770" r="14"/>
</g>
<rect class="fr" width="412.6" height="396.4"/>
<path class="tk" d="M0 396.4v6M82.52 396.4v6M165.04 396.4v6M247.56 396.4v6M330.08 396.4v6M412.6 396.4v6M0 0h-6M0 79.28h-6M0 158.56h-6M0 237.84h-6M0 317.12h-6M0 396.4h-6"/>
<g class="tl" text-anchor="middle"><text x="0" y="428">20</text><text x="82.52" y="428">30</text><text x="165.04" y="428">40</text><text x="247.56" y="428">50</text><text x="330.08" y="428">60</text><text x="412.6" y="428">70</text></g>
<g class="tl" text-anchor="end"><text x="-12.4" y="405.2">0.0</text><text x="-12.4" y="325.9">0.5</text><text x="-12.4" y="246.6">1.0</text><text x="-12.4" y="167.4">1.5</text><text x="-12.4" y="88.1">2.0</text><text x="-12.4" y="8.8">2.5</text></g>
<text class="al" x="206.3" y="465" text-anchor="middle">Slope 2013 DTM [°]</text>
<text class="al" transform="translate(-66 198.2) rotate(-90)" text-anchor="middle"><tspan font-style="italic">T</tspan><tspan font-style="italic" font-size="22" dy="7">mean</tspan><tspan dy="-7"> [m]</tspan></text>
<text class="al" x="-110" y="-61">e)</text>
</g>

<!-- PANEL F -->
<g transform="translate(1366.7 705.1)">
<g clip-path="url(#ax)"><g transform="scale(.40944 .3819) translate(-285 -285)">
<use href="#n3" class="dw"/><use href="#n3" class="d3"/><use href="#n2" class="dw"/><use href="#n2" class="d2"/><use href="#n1" class="dw"/><use href="#n1" class="d1"/><use href="#n0" class="dw"/><use href="#n0" class="d0"/>
<path class="c3" d="M315 1070C315 1020 380 995 440 975C500 950 540 880 590 880C650 885 700 940 760 980C820 1040 790 1130 785 1200C780 1260 700 1270 630 1260C560 1250 520 1205 470 1200C400 1200 360 1190 330 1140C320 1110 315 1090 315 1070Z"/>
<path class="c2" d="M475 1200C460 1100 520 1000 600 960C680 930 790 925 850 980C875 1030 850 1090 820 1130C790 1170 730 1200 670 1230C620 1260 560 1285 510 1260C485 1240 478 1220 475 1200Z"/>
<path class="c1" d="M510 1040C520 960 600 915 680 910C760 910 840 950 845 1020C850 1110 820 1200 760 1235C700 1250 600 1240 550 1180C520 1140 508 1090 510 1040Z"/>
<path class="c0" d="M555 1010C560 880 620 760 690 718C740 700 775 760 790 840C805 920 830 990 820 1060C810 1140 780 1210 740 1240C690 1250 640 1200 600 1150C570 1110 553 1060 555 1010Z"/>
</g></g>
<g transform="scale(.40179 .3819) translate(-320 -285)"><use href="#tops"/></g>
<g transform="scale(.40944 .3819) translate(-285 -285)">
<path class="ln" d="M1342 591V833M1342 1066V1240M1329 591H1355M1329 1240H1355M1393 857V995M1393 1120V1188M1380 857H1406M1380 1188H1406M1444 958V1038M1444 1142V1210M1431 958H1457M1431 1210H1457M1495 905V1027M1495 1160V1228M1482 905H1508M1482 1228H1508"/>
<polygon class="bx f0" points="1317,1066 1317,1013 1329,945 1317,877 1317,833 1367,833 1367,877 1355,945 1367,1013 1367,1066"/>
<polygon class="bx f1" points="1368,1120 1368,1091 1380,1055 1368,1019 1368,995 1418,995 1418,1019 1406,1055 1418,1091 1418,1120"/>
<polygon class="bx f2" points="1419,1142 1419,1105 1431,1075 1419,1045 1419,1038 1469,1038 1469,1045 1457,1075 1469,1105 1469,1142"/>
<polygon class="bx f3" points="1470,1160 1470,1132 1482,1093 1470,1054 1470,1027 1520,1027 1520,1054 1508,1093 1520,1132 1520,1160"/>
<path class="ln" d="M1329 945H1355M1380 1055H1406M1431 1075H1457M1482 1093H1508"/>
<circle class="ol" cx="1342" cy="337" r="14"/><circle class="ol" cx="1342" cy="397" r="14"/><circle class="ol" cx="1393" cy="638" r="14"/><circle class="ol" cx="1393" cy="683" r="14"/><circle class="ol" cx="1393" cy="716" r="14"/><circle class="ol" cx="1495" cy="793" r="14"/>
</g>
<rect class="fr" width="412.6" height="396.4"/>
<path class="tk" d="M0 396.4v6M82.52 396.4v6M165.04 396.4v6M247.56 396.4v6M330.08 396.4v6M412.6 396.4v6M0 0h-6M0 66.07h-6M0 132.13h-6M0 198.2h-6M0 264.27h-6M0 330.33h-6M0 396.4h-6"/>
<g class="tl" text-anchor="middle"><text x="0" y="428">20</text><text x="82.52" y="428">30</text><text x="165.04" y="428">40</text><text x="247.56" y="428">50</text><text x="330.08" y="428">60</text><text x="412.6" y="428">70</text></g>
<g class="tl" text-anchor="end"><text x="-12.4" y="405.2">0.0</text><text x="-12.4" y="339.1">0.5</text><text x="-12.4" y="273.1">1.0</text><text x="-12.4" y="207">1.5</text><text x="-12.4" y="140.9">2.0</text><text x="-12.4" y="74.9">2.5</text><text x="-12.4" y="8.8">3.0</text></g>
<text class="al" x="206.3" y="465" text-anchor="middle">Slope 2013 DTM [°]</text>
<text class="al" transform="translate(-64.7 198.2) rotate(-90)" text-anchor="middle"><tspan font-style="italic">T</tspan><tspan font-style="italic" font-size="22" dy="7">max</tspan><tspan dy="-7"> [m]</tspan></text>
<text class="al" x="-110.6" y="-61">f)</text>
</g>

<!-- PANEL G -->
<g transform="translate(128.7 1300.9)">
<g clip-path="url(#ax)"><g transform="scale(.40179 .3819) translate(-320 -285)">
<use href="#g3" class="dw"/><use href="#g3" class="d3"/><use href="#g2" class="dw"/><use href="#g2" class="d2"/><use href="#g1" class="dw"/><use href="#g1" class="d1"/><use href="#g0" class="dw"/><use href="#g0" class="d0"/>
<path class="c3" d="M360 1230C350 1190 420 1150 480 1125C540 1110 640 1110 720 1115C790 1125 860 1180 860 1230C850 1290 760 1290 700 1300C640 1310 560 1280 480 1275C420 1272 370 1260 360 1230Z"/>
<path class="c2" d="M545 1323C520 1280 520 1240 560 1200C620 1150 700 1090 780 1060C820 1040 830 1010 850 1000C865 1000 850 1050 830 1080C880 1090 910 1100 920 1130C930 1170 870 1200 800 1230C740 1260 720 1290 680 1323"/>
<path class="c1" d="M550 1190C555 1100 650 1050 750 1045C840 1045 920 1100 925 1160C930 1210 860 1245 780 1265C700 1280 610 1285 575 1280C560 1260 548 1225 550 1190Z"/>
<path class="c0" d="M570 1323C560 1250 580 1180 640 1110C700 1030 790 940 860 885C890 870 893 900 892 960C890 1050 880 1150 860 1210C830 1270 800 1300 760 1323"/>
</g></g>
<g transform="scale(.40179 .3819) translate(-320 -285)"><use href="#tops"/>
<path class="ln" d="M1398 746V990M1398 1192V1245M1385 746H1411M1385 1245H1411M1450 1040V1123M1450 1202V1287M1437 1040H1463M1437 1287H1463M1502 1008V1150M1502 1253V1278M1489 1008H1515M1489 1278H1515M1553 1127V1190M1553 1236V1291M1540 1127H1566M1540 1291H1566"/>
<polygon class="bx f0" points="1372,1192 1372,1209 1385,1150 1372,1091 1372,990 1424,990 1424,1091 1411,1150 1424,1209 1424,1192"/>
<polygon class="bx f1" points="1424,1202 1424,1183 1437,1160 1424,1137 1424,1123 1476,1123 1476,1137 1463,1160 1476,1183 1476,1202"/>
<polygon class="bx f2" points="1476,1253 1476,1222 1489,1192 1476,1162 1476,1150 1528,1150 1528,1162 1515,1192 1528,1222 1528,1253"/>
<polygon class="bx f3" points="1527,1236 1527,1223 1540,1210 1527,1197 1527,1190 1579,1190 1579,1197 1566,1210 1579,1223 1579,1236"/>
<path class="ln" d="M1385 1150H1411M1437 1160H1463M1489 1192H1515M1540 1210H1566"/>
<circle class="ol" cx="1398" cy="442" r="14"/><circle class="ol" cx="1450" cy="852" r="14"/><circle class="ol" cx="1553" cy="858" r="14"/><circle class="ol" cx="1553" cy="1073" r="14"/>
</g>
<rect class="fr" width="412.6" height="396.4"/>
<path class="tk" d="M0 396.4v6M82.52 396.4v6M165.04 396.4v6M247.56 396.4v6M330.08 396.4v6M412.6 396.4v6M0 0h-6M0 66.07h-6M0 132.13h-6M0 198.2h-6M0 264.27h-6M0 330.33h-6M0 396.4h-6"/>
<g class="tl" text-anchor="middle"><text x="0" y="428">20</text><text x="82.52" y="428">30</text><text x="165.04" y="428">40</text><text x="247.56" y="428">50</text><text x="330.08" y="428">60</text><text x="412.6" y="428">70</text></g>
<g class="tl" text-anchor="end"><text x="-12.4" y="405.2">0.0</text><text x="-12.4" y="339.1">0.2</text><text x="-12.4" y="273.1">0.4</text><text x="-12.4" y="207">0.6</text><text x="-12.4" y="140.9">0.8</text><text x="-12.4" y="74.9">1.0</text><text x="-12.4" y="8.8">1.2</text></g>
<text class="al" x="206.3" y="465" text-anchor="middle">Slope 2013 DTM [°]</text>
<text class="al" transform="translate(-64.3 198.2) rotate(-90)" text-anchor="middle"><tspan font-style="italic">D</tspan><tspan font-style="italic" font-size="22" dy="7">mean</tspan><tspan dy="-7">/L [-]</tspan></text>
<text class="al" x="-110.7" y="-61">g)</text>
</g>

<!-- PANEL H -->
<g transform="translate(747.8 1300.9)">
<g clip-path="url(#ax)"><g transform="scale(.40179 .3819) translate(-318 -285)">
<use href="#h3" class="dw"/><use href="#h3" class="d3"/><use href="#h2" class="dw"/><use href="#h2" class="d2"/><use href="#h1" class="dw"/><use href="#h1" class="d1"/><use href="#h0" class="dw"/><use href="#h0" class="d0"/>
<path class="c3" d="M395 1150C380 1060 420 1000 500 998C580 995 700 995 780 1040C850 1080 860 1150 850 1220C830 1290 740 1310 680 1300C620 1295 560 1250 510 1230C460 1200 410 1200 395 1150Z"/>
<path class="c2" d="M545 1323C510 1260 510 1180 550 1120C610 1030 700 1000 770 990C820 960 830 900 860 910C870 930 840 980 855 1010C900 1030 915 1080 900 1120C870 1180 800 1220 740 1260C700 1290 680 1310 660 1323"/>
<path class="c1" d="M535 1160C550 1040 650 960 740 950C830 950 915 1040 920 1130C925 1220 850 1265 760 1275C660 1285 600 1285 565 1275C540 1250 530 1200 535 1160Z"/>
<path class="c0" d="M555 1130C580 1040 640 1000 690 930C740 860 790 795 830 795C875 800 880 850 878 900C875 1000 875 1100 870 1180C860 1270 800 1300 730 1303C650 1300 580 1260 560 1200C550 1170 550 1150 555 1130Z"/>
</g></g>
<g transform="scale(.40179 .3819) translate(-320 -285)"><use href="#tops"/></g>
<g transform="scale(.40179 .3819) translate(-318 -285)">
<path class="ln" d="M1396 650V925M1396 1152V1230M1383 650H1409M1383 1230H1409M1447 949V1042M1447 1162V1267M1434 949H1460M1434 1267H1460M1498 997V1103M1498 1217V1255M1485 997H1511M1485 1255H1511M1549 1048V1127M1549 1190V1273M1536 1048H1562M1536 1273H1562"/>
<polygon class="bx f0" points="1370,1152 1370,1151 1383,1085 1370,1019 1370,925 1422,925 1422,1019 1409,1085 1422,1151 1422,1152"/>
<polygon class="bx f1" points="1421,1162 1421,1132 1434,1097 1421,1062 1421,1042 1473,1042 1473,1062 1460,1097 1473,1132 1473,1162"/>
<polygon class="bx f2" points="1472,1217 1472,1170 1485,1137 1472,1104 1472,1103 1524,1103 1524,1104 1511,1137 1524,1170 1524,1217"/>
<polygon class="bx f3" points="1523,1190 1523,1181 1536,1163 1523,1145 1523,1127 1575,1127 1575,1145 1562,1163 1575,1181 1575,1190"/>
<path class="ln" d="M1383 1085H1409M1434 1097H1460M1485 1137H1511M1536 1163H1562"/>
<circle class="ol" cx="1396" cy="558" r="14"/><circle class="ol" cx="1447" cy="640" r="14"/><circle class="ol" cx="1498" cy="916" r="14"/><circle class="ol" cx="1549" cy="484" r="14"/><circle class="ol" cx="1549" cy="1025" r="14"/>
</g>
<rect class="fr" width="412.6" height="396.4"/>
<path class="tk" d="M0 396.4v6M82.52 396.4v6M165.04 396.4v6M247.56 396.4v6M330.08 396.4v6M412.6 396.4v6M0 0h-6M0 66.07h-6M0 132.13h-6M0 198.2h-6M0 264.27h-6M0 330.33h-6M0 396.4h-6"/>
<g class="tl" text-anchor="middle"><text x="0" y="428">20</text><text x="82.52" y="428">30</text><text x="165.04" y="428">40</text><text x="247.56" y="428">50</text><text x="330.08" y="428">60</text><text x="412.6" y="428">70</text></g>
<g class="tl" text-anchor="end"><text x="-12.4" y="405.2">0.0</text><text x="-12.4" y="339.1">0.1</text><text x="-12.4" y="273.1">0.2</text><text x="-12.4" y="207">0.3</text><text x="-12.4" y="140.9">0.4</text><text x="-12.4" y="74.9">0.5</text><text x="-12.4" y="8.8">0.6</text></g>
<text class="al" x="206.3" y="465" text-anchor="middle">Slope 2013 DTM [°]</text>
<text class="al" transform="translate(-66 198.2) rotate(-90)" text-anchor="middle"><tspan font-style="italic">T</tspan><tspan font-style="italic" font-size="22" dy="7">mean</tspan><tspan dy="-7">/L [-]</tspan></text>
<text class="al" x="-110" y="-61">h)</text>
</g>

<!-- LEGEND -->
<rect x="1334" y="1300.9" width="445.5" height="396.8" fill="none" stroke="#333" stroke-width="1.5"/>
<text class="al" x="1360.4" y="1352.2">Distance to the closest</text>
<text class="al" x="1360.4" y="1391.4">tree [m]</text>
<text class="al" x="1360.4" y="1451.7">(# samples within class)</text>
<circle cx="1391.7" cy="1507.2" r="8.5" fill="#7ad151"/>
<circle cx="1391.7" cy="1554.3" r="8.5" fill="#22a884"/>
<circle cx="1391.7" cy="1601.8" r="8.5" fill="#2a788e"/>
<circle cx="1391.7" cy="1648.9" r="8.5" fill="#414487"/>
<text class="al" x="1451" y="1518.6">&lt;= 2 (30)</text>
<text class="al" x="1451" y="1566">2 - 5 (26)</text>
<text class="al" x="1451" y="1613.2">5 - 15 (26)</text>
<text class="al" x="1451" y="1660.7">&gt; 15 (28)</text>
</svg>
</body></html>
